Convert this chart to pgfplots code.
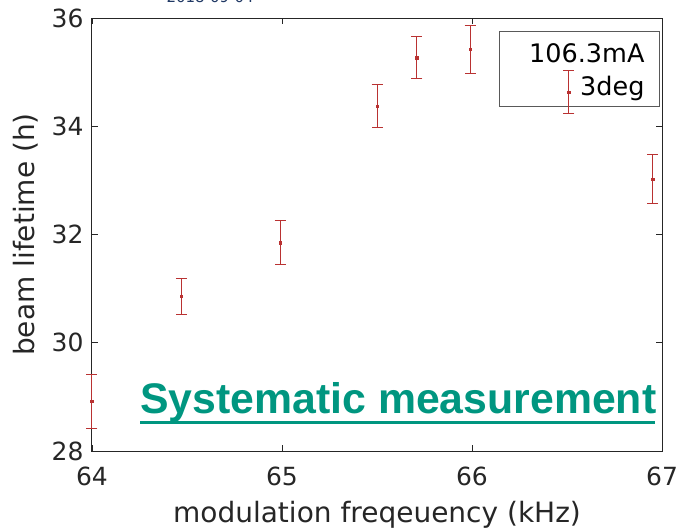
\documentclass[border=0pt]{standalone}
\usepackage{fontspec}
\setmainfont{DejaVu Sans}
\newfontfamily\arialfont{Liberation Sans}
\usepackage{pgfplots}
\pgfplotsset{compat=1.18}
\definecolor{axgray}{RGB}{38,38,38}
\definecolor{ebred}{RGB}{185,50,50}
\definecolor{tealtxt}{RGB}{0,150,128}
\definecolor{navy}{RGB}{31,56,100}
\pgfplotstableread{
x y e
64.00 28.92 0.50
64.47 30.86 0.33
64.99 31.85 0.40
65.50 34.37 0.40
65.71 35.27 0.38
65.99 35.42 0.45
66.51 34.63 0.40
66.95 33.02 0.45
}\datatab
\begin{document}
\begin{tikzpicture}
\path[use as bounding box] (-92pt,-77pt) rectangle (587pt,451pt);
\draw[black!65, line width=1pt] (407pt,344pt) rectangle (567pt,419pt);
\node[anchor=base east, font=\fontsize{25.5}{30}\selectfont, text=black] at (556pt,388pt) {106.3mA};
\node[anchor=base east, font=\fontsize{25.5}{30}\selectfont, text=black] at (556pt,355pt) {3deg};
\node[anchor=base west, font=\fontsize{15}{18}\selectfont, text=navy] at (71pt,448pt) {2018-09-04};
\begin{axis}[
 scale only axis, width=570pt, height=433pt,
 xmin=64, xmax=67, ymin=28, ymax=36,
 xtick={64,65,66,67}, ytick={28,30,32,34,36},
 tick align=inside, major tick length=6pt,
 axis line style={axgray, line width=1pt},
 tick style={axgray, line width=0.8pt},
 ticklabel style={font=\fontsize{25}{30}\selectfont, text=axgray},
 xticklabel shift=12pt,
 yticklabel shift=5pt,
 /pgf/number format/assume math mode=true,
 xlabel={modulation freqeuency (kHz)},
 ylabel={beam lifetime (h)},
 xlabel shift=9pt,
 ylabel shift=7pt,
 label style={font=\fontsize{28}{33}\selectfont, text=axgray},
 clip=false,
]
\addplot[only marks, mark=square*, mark size=1.3pt, color=ebred,
  error bars/.cd, y dir=both, y explicit,
  error bar style={line width=1pt, ebred},
  error mark options={rotate=90, mark size=5.5pt, line width=1pt, ebred}]
  table[x=x, y=y, y error=e] {\datatab};
\end{axis}
\node[anchor=base west, font=\arialfont\bfseries\fontsize{42.8}{48}\selectfont, text=tealtxt, inner sep=0pt] at (48pt,38pt) {Systematic measurement};
\draw[tealtxt, line width=3pt] (48pt,29pt) -- (563pt,29pt);
\end{tikzpicture}
\end{document}
